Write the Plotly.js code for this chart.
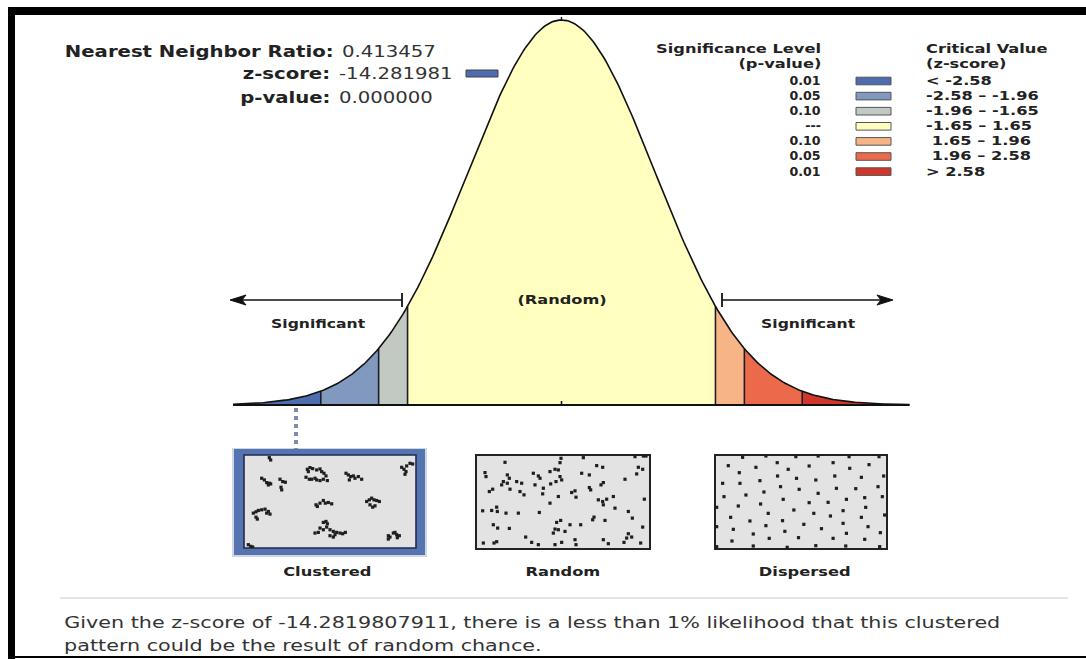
<!DOCTYPE html>
<html>
<head>
<meta charset="utf-8">
<script src="https://cdn.plot.ly/plotly-3.0.1.min.js"></script>
<style>html,body{margin:0;padding:0;background:#fff;}#chart{width:1086px;height:659px;}</style>
</head>
<body>
<div id="chart"></div>
<script>
// ---------------- DATA ----------------
const nnRatio = '0.413457';
const zScore = '-14.281981';
const pValue = '0.000000';
const zScoreFull = '-14.2819807911';
const criticalValues = [-2.58, -1.96, -1.65, 1.65, 1.96, 2.58];
const pLabels = ['0.01', '0.05', '0.10', '---', '0.10', '0.05', '0.01'];
const zLabels = ['< -2.58', '-2.58 \u2013 -1.96', '-1.96 \u2013 -1.65', '-1.65 \u2013 1.65', '\u00a01.65 \u2013 1.96', '\u00a01.96 \u2013 2.58', '> 2.58'];
const binColors = ['#4d6dae', '#8299bf', '#c2c9c2', '#ffffc0', '#f7b487', '#eb6a4b', '#d1362c'];
const patternLabels = ['Clustered', 'Random', 'Dispersed'];

// point patterns (in each box's own coordinates)
const clusteredX = [148,152, 125,133,140,148,152,145,180,188,196,183,185, 262,270,278,290,300,305,312,318,258,268,275,285,290,300,310,322,265, 378,385,392,400,405,415,425,388, 545,552,558,560,570,578,555, 288,292,300,310,316,325,335, 440,448,455,462,470,478,450,458,465, 100,108,115,125,135,145,150,108,112,140, 310,318,322,300,310,320,330,340,350,360,368,376,285,295,330,340,345, 505,505,510,520,530,538,532,525, 85,92,98];
const clusteredY = [83,90, 145,150,158,160,162,165,148,155,157,172,180, 118,113,116,120,117,125,130,138,142,148,148,145,150,152,148,152,125, 130,135,140,138,145,140,148,150, 112,118,125,108,100,102,133, 225,230,220,212,220,218,222, 215,210,205,210,212,215,225,232,228, 250,246,242,240,238,245,253,262,268,250, 278,275,282,295,300,292,300,305,308,310,312,308,310,308,318,322,315, 318,328,322,310,315,318,324,308, 345,350,352];
const randomPts = [[855,97],[795,128],[798,140],[862,135],[868,145],[850,155],[845,165],[862,160],[808,185],[818,178],
 [870,178],[890,155],[905,160],[940,130],[955,138],[945,165],[960,145],[990,125],[1005,118],[1015,120],
 [1020,140],[1025,150],[992,162],[1008,155],[1023,85],[1020,98],[1085,130],[1108,135],[1090,83],[1130,107],
 [1148,112],[1150,158],[1143,165],[1245,80],[1270,78],[1255,112],[1268,118],[1250,132],[1215,148],[1055,188],
 [1065,183],[1068,202],[1108,173],[1112,180],[900,185],[912,195],[970,175],[968,192],[1015,200],[990,220],
 [1135,210],[1148,215],[1160,208],[1180,200],[1150,225],[1185,235],[1225,245],[1273,208],[788,243],[815,242],
 [830,232],[832,245],[858,250],[895,250],[958,248],[1010,278],[1022,272],[1122,262],[1118,270],[1155,272],
 [1237,265],[1268,292],[820,285],[833,295],[868,296],[1005,298],[1015,300],[1035,305],[1050,285],[1082,285],
 [1000,310],[1225,312],[1235,322],[917,322],[935,338],[955,345],[790,340],[822,340],[830,336],[1005,345],
 [1025,338],[1065,330],[1068,345],[1150,330],[1165,342],[1212,338],[1262,340],[1278,78],[1220,325]];
const dispersedPts = [[188,82],[258,78],[348,80],[415,78],[508,80],[598,80],[145,107],[228,112],[292,98],[325,118],
 [388,108],[460,98],[510,115],[568,104],[178,128],[240,152],[293,138],[350,145],[408,150],[465,138],
 [545,142],[612,138],[128,160],[180,160],[302,170],[358,178],[415,190],[470,175],[528,176],[595,170],
 [132,200],[198,195],[252,186],[310,208],[388,218],[445,217],[500,208],[555,203],[608,200],[175,228],
 [242,222],[342,240],[402,250],[490,242],[558,232],[152,262],[210,273],[265,250],[308,272],[372,283],
 [452,258],[545,262],[160,298],[258,287],[315,304],[425,296],[490,280],[565,290],[220,312],[268,325],
 [356,323],[460,325],[500,310],[555,328],[602,308],[156,333],[220,348],[322,352],[408,347],[498,348],
 [600,350],[110,232],[615,255],[110,290],[110,350]];

// ---------------- LAYOUT HELPERS ----------------
const W = 1086, H = 659;
const X = p => p / W;
const Y = p => 1 - p / H;
const FONT = 'Verdana, "DejaVu Sans", sans-serif';
const TXT = '#222';

// curve geometry (pixels)
const cx = 561.5, pxPerZ = 93.3, basePx = 405, peakPx = 20;
const curveMin = -3.52, curveMax = 3.73;
const pdf = z => Math.exp(-z * z / 2) / Math.sqrt(2 * Math.PI);
const yPerPx = pdf(0) / (basePx - peakPx);

const traces = [];
// filled bins
const bounds = [curveMin].concat(criticalValues, [curveMax]);
for (let i = 0; i < bounds.length - 1; i++) {
  const a = bounds[i], b = bounds[i + 1];
  const xs = [], ys = [];
  const n = Math.max(4, Math.ceil((b - a) / 0.02));
  for (let k = 0; k <= n; k++) { const z = a + (b - a) * k / n; xs.push(z); ys.push(pdf(z)); }
  xs.push(b, a); ys.push(0, 0);
  traces.push({x: xs, y: ys, mode: 'lines', fill: 'toself', fillcolor: binColors[i],
    line: {width: 0, color: binColors[i]}, hoverinfo: 'skip', xaxis: 'x', yaxis: 'y'});
}
// critical value separators
criticalValues.forEach(c => {
  traces.push({x: [c, c], y: [0, pdf(c)], mode: 'lines', line: {color: '#1d1d28', width: 1.6},
    hoverinfo: 'skip', xaxis: 'x', yaxis: 'y'});
});
// curve outline
{
  const xs = [], ys = [];
  const n = Math.ceil((curveMax - curveMin) / 0.02);
  for (let k = 0; k <= n; k++) { const z = curveMin + (curveMax - curveMin) * k / n; xs.push(z); ys.push(pdf(z)); }
  traces.push({x: xs, y: ys, mode: 'lines', line: {color: '#111', width: 1.6}, hoverinfo: 'skip', xaxis: 'x', yaxis: 'y'});
}
// baseline
traces.push({x: [curveMin, curveMax], y: [0, 0], mode: 'lines', line: {color: '#111', width: 2},
  hoverinfo: 'skip', xaxis: 'x', yaxis: 'y'});

// point patterns
const dot = {color: '#1e1e1e', size: 3.2, symbol: 'square'};
traces.push({x: clusteredX, y: clusteredY, mode: 'markers', marker: dot, xaxis: 'x2', yaxis: 'y2', hoverinfo: 'skip'});
traces.push({x: randomPts.map(p => p[0]), y: randomPts.map(p => p[1]), mode: 'markers', marker: dot, xaxis: 'x3', yaxis: 'y3', hoverinfo: 'skip'});
traces.push({x: dispersedPts.map(p => p[0]), y: dispersedPts.map(p => p[1]), mode: 'markers', marker: dot, xaxis: 'x4', yaxis: 'y4', hoverinfo: 'skip'});

// ---------------- SHAPES ----------------
const shapes = [];
const rectPx = (x0, y0, x1, y1, fill, line, lw) => shapes.push({type: 'rect', xref: 'paper', yref: 'paper',
  x0: X(x0), x1: X(x1), y0: Y(y1), y1: Y(y0), fillcolor: fill, line: {color: line || fill, width: lw || 0}, layer: 'below'});
const linePx = (x0, y0, x1, y1, color, w, dash) => shapes.push({type: 'line', xref: 'paper', yref: 'paper',
  x0: X(x0), x1: X(x1), y0: Y(y0), y1: Y(y1), line: {color: color, width: w, dash: dash || 'solid'}});
const pathPx = (pts, fill) => shapes.push({type: 'path', xref: 'paper', yref: 'paper',
  path: 'M ' + pts.map(p => X(p[0]) + ' ' + Y(p[1])).join(' L ') + ' Z', fillcolor: fill, line: {color: fill, width: 1}});

// frame
rectPx(8, 7, 1086, 15, '#000');
rectPx(8, 7, 15, 659, '#000');
linePx(8, 657, 1086, 657, '#000', 2);
// separator
linePx(60, 598, 1068, 598, '#c9c9c9', 1.2);

// arrows
const arrowY = 300;
linePx(233, arrowY, 402, arrowY, '#111', 1.6);
linePx(402, arrowY - 7, 402, arrowY + 7, '#111', 1.8);
pathPx([[230, arrowY], [246, arrowY - 5], [242, arrowY], [246, arrowY + 5]], '#111');
linePx(722, arrowY, 890, arrowY, '#111', 1.6);
linePx(722, arrowY - 7, 722, arrowY + 7, '#111', 1.8);
pathPx([[893, arrowY], [877, arrowY - 5], [881, arrowY], [877, arrowY + 5]], '#111');

// center & peak ticks
shapes.push({type: 'line', xref: 'x', yref: 'paper', x0: 0, x1: 0, y0: Y(basePx), y1: Y(basePx - 4), line: {color: '#111', width: 1.6}});
shapes.push({type: 'line', xref: 'x', yref: 'paper', x0: 0, x1: 0, y0: Y(peakPx), y1: Y(peakPx - 3), line: {color: '#111', width: 1.4}});

// z-score indicator (dashed)
linePx(296, 408, 296, 449, '#7d8cad', 4, '4px,4px');

// pattern boxes
rectPx(232, 448, 427, 557, '#cfd6e4');
rectPx(234, 449, 425, 555, '#5675b0');
rectPx(244, 455, 416, 548, '#e2e2e2', '#1e2a52', 1.6);
rectPx(476, 455, 650, 549, '#e3e3e3', '#222', 2);
rectPx(715, 455, 887, 549, '#e3e3e3', '#222', 2);

// legend swatches
const rowY0 = 81, rowStep = 15.1;
binColors.forEach((c, i) => {
  const yc = rowY0 + i * rowStep;
  rectPx(856, yc - 3.8, 891, yc + 3.8, c, '#555', 1);
});
// z-score swatch
rectPx(466, 70, 498, 77, binColors[0], '#444', 1);

// ---------------- ANNOTATIONS ----------------
const ann = [];
const stretch = [];
const txt = (x, y, text, size, anchor, color, sx) => {
  ann.push({xref: 'paper', yref: 'paper', x: X(x), y: Y(y), text: text, showarrow: false,
    xanchor: anchor || 'center', yanchor: 'middle', font: {family: FONT, size: size, color: color || TXT}});
  stretch.push({s: sx || 1, anchor: anchor || 'center'});
};

// stats
txt(336, 51, '<b>Nearest Neighbor Ratio:</b>', 16, 'right', '#222', 1.23);
txt(340, 51, nnRatio, 16, 'left', '#333', 1.23);
txt(332, 74, '<b>z-score:</b>', 16, 'right', '#222', 1.23);
txt(337, 74, zScore, 16, 'left', '#333', 1.23);
txt(332, 97, '<b>p-value:</b>', 16, 'right', '#222', 1.23);
txt(337, 97, pValue, 16, 'left', '#333', 1.23);

// legend headers
txt(823, 48, '<b>Significance Level</b>', 13, 'right', TXT, 1.25);
txt(823, 63, '<b>(p-value)</b>', 13, 'right', TXT, 1.25);
txt(924, 48, '<b>Critical Value</b>', 13, 'left', TXT, 1.25);
txt(924, 63, '<b>(z-score)</b>', 13, 'left', TXT, 1.25);
pLabels.forEach((t, i) => txt(823, rowY0 + i * rowStep, '<b>' + t + '</b>', 12, 'right', TXT, 1.05));
zLabels.forEach((t, i) => txt(924, rowY0 + i * rowStep, '<b>' + t + '</b>', 12, 'left', TXT, 1.35));

// curve labels
txt(562, 300, '<b>(Random)</b>', 12, 'center', TXT, 1.35);
txt(318, 324, '<b>Significant</b>', 12, 'center', TXT, 1.3);
txt(808, 324, '<b>Significant</b>', 12, 'center', TXT, 1.3);

// pattern labels
txt(327, 571, '<b>' + patternLabels[0] + '</b>', 13, 'center', TXT, 1.25);
txt(563, 571, '<b>' + patternLabels[1] + '</b>', 13, 'center', TXT, 1.25);
txt(804, 571, '<b>' + patternLabels[2] + '</b>', 13, 'center', TXT, 1.25);

// conclusion
txt(62, 623, 'Given the z-score of ' + zScoreFull + ', there is a less than 1% likelihood that this clustered', 15, 'left', '#333', 1.38);
txt(62, 646, 'pattern could be the result of random chance.', 15, 'left', '#333', 1.38);

// ---------------- AXES ----------------
const hidden = {visible: false, fixedrange: true};
const layout = {
  width: W, height: H, margin: {l: 0, r: 0, t: 0, b: 0, pad: 0},
  paper_bgcolor: '#fff', plot_bgcolor: 'rgba(0,0,0,0)', showlegend: false,
  xaxis: Object.assign({domain: [0, 1], range: [(0 - cx) / pxPerZ, (W - cx) / pxPerZ]}, hidden),
  yaxis: Object.assign({domain: [0, 1], range: [-(H - basePx) * yPerPx, basePx * yPerPx]}, hidden),
  xaxis2: Object.assign({domain: [X(244), X(416)], range: [72, 588], anchor: 'y2'}, hidden),
  yaxis2: Object.assign({domain: [Y(548), Y(455)], range: [355, 75], anchor: 'x2'}, hidden),
  xaxis3: Object.assign({domain: [X(476), X(650)], range: [768, 1290], anchor: 'y3'}, hidden),
  yaxis3: Object.assign({domain: [Y(549), Y(455)], range: [358, 75], anchor: 'x3'}, hidden),
  xaxis4: Object.assign({domain: [X(715), X(887)], range: [105, 622], anchor: 'y4'}, hidden),
  yaxis4: Object.assign({domain: [Y(549), Y(455)], range: [357, 75], anchor: 'x4'}, hidden),
  shapes: shapes, annotations: ann
};

// widen the glyphs horizontally, as in the (horizontally stretched) reference image
function stretchText() {
  document.querySelectorAll('#chart g.annotation').forEach(g => {
    const i = +g.getAttribute('data-index');
    const st = stretch[i];
    if (!st || st.s === 1) return;
    const t = g.querySelector('text');
    if (!t) return;
    const ox = st.anchor === 'left' ? '0%' : (st.anchor === 'right' ? '100%' : '50%');
    t.style.transformBox = 'fill-box';
    t.style.transformOrigin = ox + ' 50%';
    t.style.transform = 'scaleX(' + st.s + ')';
  });
}
Plotly.newPlot('chart', traces, layout, {staticPlot: true, displayModeBar: false}).then(stretchText);
</script>
</body>
</html>
